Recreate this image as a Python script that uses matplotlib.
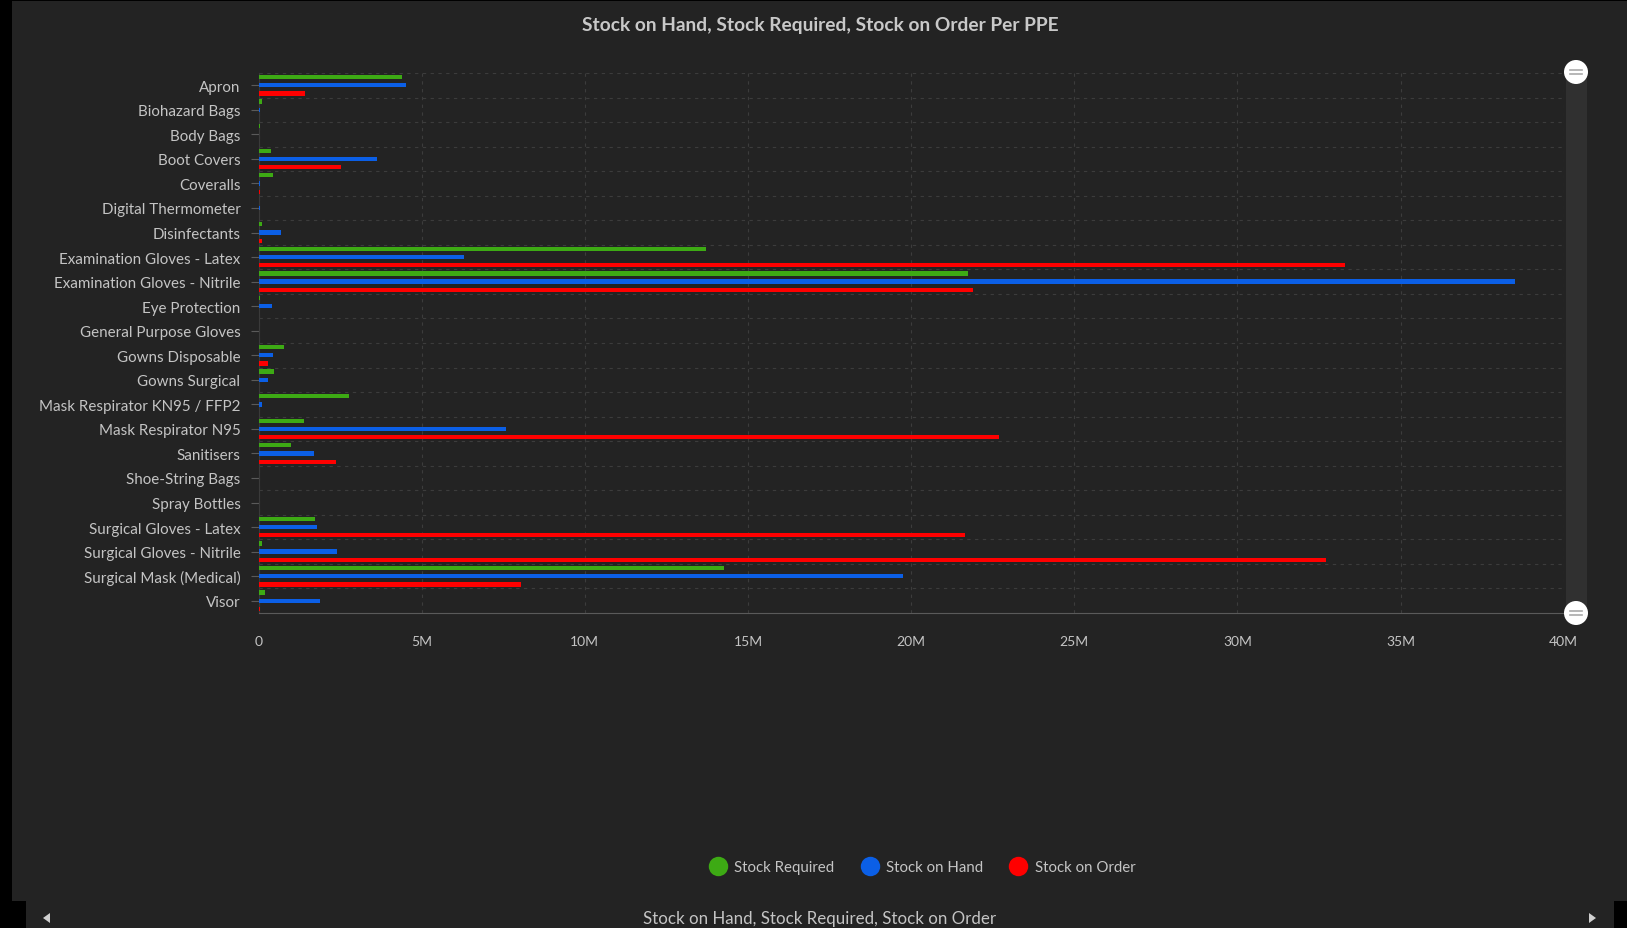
import numpy as np
import matplotlib
matplotlib.use("Agg")
from matplotlib import pyplot as plt
from matplotlib.lines import Line2D
from matplotlib.patches import Rectangle, Circle
from matplotlib.ticker import FuncFormatter, MultipleLocator

plt.rcParams['font.family'] = ['Lato', 'DejaVu Sans']

# data (values in millions)
items = ["Apron", "Biohazard Bags", "Body Bags", "Boot Covers", "Coveralls",
         "Digital Thermometer", "Disinfectants", "Examination Gloves - Latex",
         "Examination Gloves - Nitrile", "Eye Protection", "General Purpose Gloves",
         "Gowns Disposable", "Gowns Surgical", "Mask Respirator KN95 / FFP2",
         "Mask Respirator N95", "Sanitisers", "Shoe-String Bags", "Spray Bottles",
         "Surgical Gloves - Latex", "Surgical Gloves - Nitrile",
         "Surgical Mask (Medical)", "Visor"]
stock_required = [4.39, 0.12, 0.06, 0.38, 0.45, 0.01, 0.12, 13.7, 21.75, 0.06, 0.01,
                  0.77, 0.48, 2.77, 1.40, 0.99, 0.01, 0.01, 1.72, 0.12, 14.28, 0.19]
stock_on_hand = [4.52, 0.06, 0.02, 3.62, 0.06, 0.05, 0.70, 6.30, 38.5, 0.40, 0.03,
                 0.45, 0.28, 0.10, 7.57, 1.69, 0.02, 0.02, 1.78, 2.42, 19.75, 1.88]
stock_on_order = [1.43, 0.01, 0.01, 2.54, 0.05, 0.01, 0.12, 33.3, 21.9, 0.01, 0.01,
                  0.28, 0.01, 0.01, 22.7, 2.38, 0.01, 0.01, 21.65, 32.7, 8.04, 0.04]
series_names = ["Stock Required", "Stock on Hand", "Stock on Order"]
colors = ["#3daa14", "#0b5fe6", "#ff0000"]

W, H = 1627, 929
fig = plt.figure(figsize=(W / 100, H / 100), dpi=100, facecolor="black")

# background panels (pixel coords)
bg = fig.add_axes([0, 0, 1, 1], zorder=-5)
bg.set_xlim(0, W)
bg.set_ylim(H, 0)
bg.axis("off")
bg.add_patch(Rectangle((12, 2), W - 12, 900, color="#232323", lw=0))
bg.add_patch(Rectangle((26, 902), 1614 - 26, 27, color="#232323", lw=0))

ax = fig.add_axes([258.5 / W, 1 - 614 / H, (1563.7 - 258.5) / W, (614 - 74) / H])
ax.set_facecolor("#232323")

y = np.arange(len(items))
off = 0.335
h = 0.175
ax.barh(y - off, np.array(stock_required) * 1e6, height=h, color=colors[0], zorder=3)
ax.barh(y, np.array(stock_on_hand) * 1e6, height=h, color=colors[1], zorder=3)
ax.barh(y + off, np.array(stock_on_order) * 1e6, height=h, color=colors[2], zorder=3)

ax.set_xlim(0, 40e6)
ax.set_ylim(len(items) - 0.5, -0.5)
ax.set_yticks(y)
ax.set_yticklabels(items)
ax.yaxis.set_minor_locator(MultipleLocator(1, offset=0.5))
ax.xaxis.set_major_locator(MultipleLocator(5e6))
ax.xaxis.set_major_formatter(FuncFormatter(lambda v, p: "0" if v == 0 else "%dM" % (v / 1e6)))

ax.grid(True, axis="x", which="major", color="#3c3c3c", ls=(0, (3, 4)), lw=0.8)
ax.grid(True, axis="y", which="minor", color="#3c3c3c", ls=(0, (3, 4)), lw=0.8)
ax.set_axisbelow(True)

for s in ["top", "right"]:
    ax.spines[s].set_visible(False)
ax.spines["bottom"].set_color("#5a5a5a")
ax.spines["left"].set_color("#3a3a3a")
ax.tick_params(axis="y", which="major", length=6, color="#5a5a5a", labelcolor="#c4c4c4",
               labelsize=10.9, pad=7)
ax.tick_params(axis="y", which="minor", length=0)
ax.tick_params(axis="x", length=0, labelcolor="#c4c4c4", labelsize=10, pad=16)

fig.text(820 / W, 1 - 25 / H, "Stock on Hand, Stock Required, Stock on Order Per PPE",
         ha="center", va="center", color="#c8c8c8", fontsize=13.8, fontweight="bold")

handles = [Line2D([], [], ls="none", marker="o", markersize=14, color=c, markeredgewidth=0)
           for c in colors]
leg = fig.legend(handles, series_names, loc="center", bbox_to_anchor=(921 / W, 1 - 868 / H),
                 ncol=3, frameon=False, fontsize=10.8, labelcolor="#c4c4c4",
                 handletextpad=0.35, columnspacing=1.6, handlelength=1.5)

fig.text(820 / W, 1 - 919 / H, "Stock on Hand, Stock Required, Stock on Order",
         ha="center", va="center", color="#c4c4c4", fontsize=12.2)

# scrollbar decorations
ov = fig.add_axes([0, 0, 1, 1], zorder=10)
ov.set_xlim(0, W)
ov.set_ylim(H, 0)
ov.axis("off")
ov.patch.set_alpha(0)
ov.add_patch(Rectangle((1566, 73), 21, 541, color="#303030", lw=0))
for cy in (73, 614):
    ov.add_patch(Circle((1576, cy), 12, color="white", lw=0))
    ov.plot([1570, 1582], [cy - 2, cy - 2], color="#aaaaaa", lw=1.2)
    ov.plot([1570, 1582], [cy + 2, cy + 2], color="#aaaaaa", lw=1.2)
ov.fill([43, 50, 50], [919, 914, 924], color="#d0d0d0", lw=0)
ov.fill([1596, 1589, 1589], [919, 914, 924], color="#d0d0d0", lw=0)

fig.savefig("out.png", dpi=100, facecolor="black")
